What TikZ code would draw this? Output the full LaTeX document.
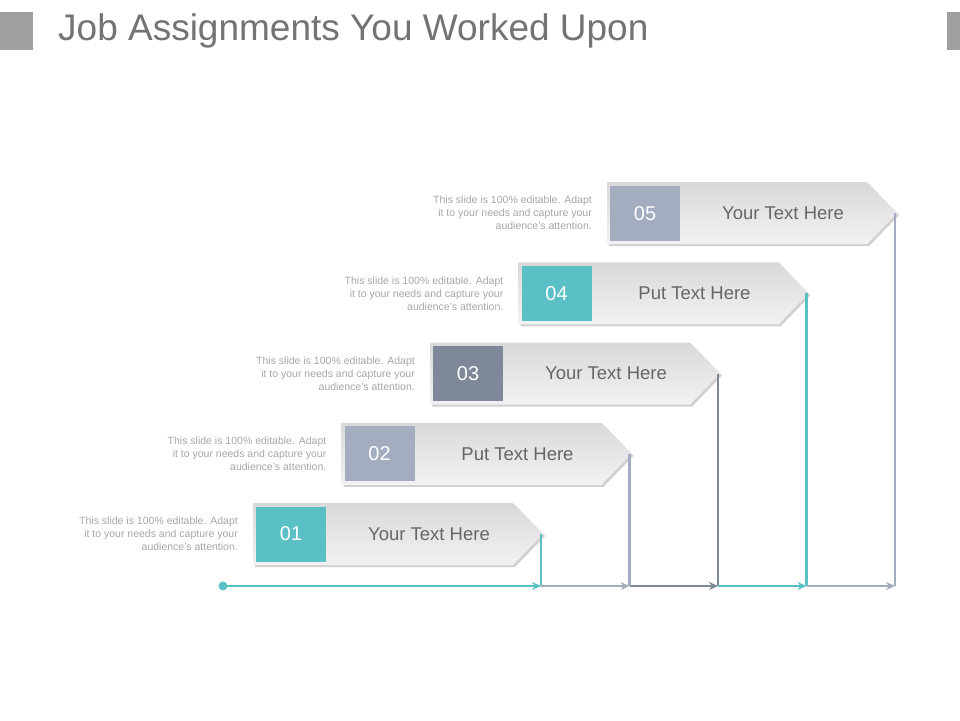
\documentclass[tikz,border=0pt]{standalone}
\usepackage{fontspec}
\usetikzlibrary{arrows.meta}
\setmainfont{Liberation Sans}
\begin{document}
\begin{tikzpicture}[x=1pt,y=-1pt,
  descr/.style={align=right,anchor=east,font=\fontsize{10.5}{13}\selectfont,text=black!35,inner sep=0},
  lbl/.style={font=\fontsize{18.5}{20}\selectfont,text=black!60},
  num/.style={font=\fontsize{20}{22}\selectfont,text=white,minimum width=70,minimum height=55,inner sep=0},
  seg/.style={line width=2.5pt,-{Stealth[length=9pt,width=8pt]}},
  vseg/.style={line width=2.5pt}]
\useasboundingbox (0,0) rectangle (960,720);
\definecolor{teal}{HTML}{5BBFC6}
\definecolor{gb}{HTML}{A4ADC0}
\definecolor{dg}{HTML}{7F8899}
\fill[gray!75] (0,12) rectangle (33,50);
\fill[gray!75] (947,12) rectangle (960,50);
\node[anchor=west,font=\fontsize{37}{40}\selectfont,text=black!55,inner sep=0] (title) at (58,31) {Job Assignments You Worked Upon};
\coordinate (start) at (223,586);
\fill[teal] (start) circle (4.5);
\def\labs{{"Your Text Here","Put Text Here","Your Text Here","Put Text Here","Your Text Here"}}
\foreach \i/\c in {0/teal,1/gb,2/dg,3/teal,4/gb}{
  \pgfmathsetmacro\xl{253+88.5*\i}
  \pgfmathsetmacro\yt{503-80.2*\i}
  \pgfmathsetmacro\xr{\xl+290}
  \pgfmathsetmacro\yc{\yt+31}
  \pgfmathsetmacro\yb{\yt+62}
  \pgfmathsetmacro\lab{\labs[\i]}
  \pgfmathtruncatemacro\n{\i+1}
  \fill[black!18] (\xl+2,\yt+2) -- (\xr-28,\yt+2) -- (\xr+2,\yc+2) -- (\xr-28,\yb+2) -- (\xl+2,\yb+2) -- cycle;
  \shade[top color=black!15,bottom color=black!5] (\xl,\yt) -- (\xr-30,\yt) -- (\xr,\yc) -- (\xr-30,\yb) -- (\xl,\yb) -- cycle;
  \node[num,fill=\c] (n\n) at (\xl+38,\yc) {0\n};
  \node[lbl] (l\n) at (\xl+176,\yc) {\lab};
  \node[descr] (d\n) at (\xl-15,\yc) {This slide is 100\% editable. Adapt\\it to your needs and capture your\\audience's attention.};
  \coordinate (tip\n) at (\xr-2,\yc);
  \coordinate (base\n) at (\xr-2,586);
  \draw[vseg,\c] (tip\n) -- (base\n);
}
\draw[seg,teal] (start) -- (base1);
\draw[seg,gb] (base1) -- (base2);
\draw[seg,dg] (base2) -- (base3);
\draw[seg,teal] (base3) -- (base4);
\draw[seg,gb] (base4) -- (base5);
\end{tikzpicture}
\end{document}
